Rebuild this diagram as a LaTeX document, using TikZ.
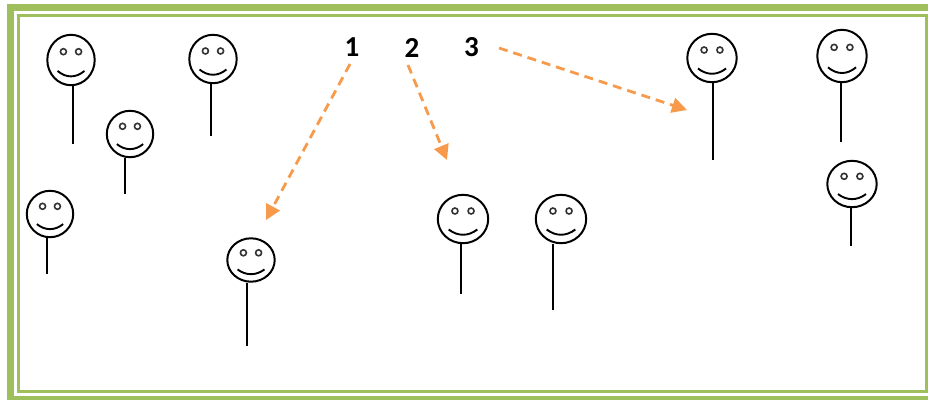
\documentclass[tikz,border=0pt]{standalone}
\usepackage{fontspec}
\setmainfont{Carlito}
\usetikzlibrary{shapes.geometric,arrows.meta,calc}
\definecolor{frameg}{HTML}{9EBF5C}
\definecolor{arrowo}{HTML}{F79A4C}
\tikzset{
  head/.style={draw=black,line width=2pt,ellipse,inner sep=0pt,outer sep=0pt,fill=white},
  eye/.style={draw=black!80,line width=1.6pt,circle,inner sep=0pt,minimum size=6pt},
  stem/.style={draw=black,line width=1.9pt},
  smile/.style={draw=black,line width=1.9pt},
  num/.style={font=\bfseries\fontsize{29}{31}\selectfont,inner sep=0pt,text=black},
  link/.style={draw=arrowo,line width=2.8pt,dash pattern=on 9pt off 6pt,
    -{Triangle[length=15pt,width=15pt,fill=arrowo]}}
}
% name, cx, cy, rx, ry, stem x, stem end y
\newcommand{\smiley}[7]{%
  \node[head,minimum width=#4*2pt-1.6pt,minimum height=#5*2pt-1.6pt] (#1) at (#2,#3) {};
  \node[eye] (#1l) at ($(#1.center)+(-#4*0.31,-#5*0.32)$) {};
  \node[eye] (#1r) at ($(#1.center)+(#4*0.31,-#5*0.32)$) {};
  \draw[smile] ($(#1.center)+(-#4*0.55,#5*0.42)$) .. controls ($(#1.center)+(-#4*0.2,#5*0.70)$) and ($(#1.center)+(#4*0.2,#5*0.70)$) .. ($(#1.center)+(#4*0.55,#5*0.42)$);
  \coordinate (#1a) at (#6,#3+#5);
  \coordinate (#1b) at (#6,#7);
  \draw[stem] (#1a) -- (#1b);
}
\begin{document}
\begin{tikzpicture}[x=1pt,y=-1pt]
\useasboundingbox (0,0) rectangle (928,400);
\fill[white] (0,0) rectangle (928,400);
\draw[frameg,line width=7pt] (10.5,7.5) -- (940,7.5);
\draw[frameg,line width=7pt] (10.5,4) -- (10.5,400);
\fill[frameg] (7,395.7) rectangle (928,400);
\draw[frameg,line width=2.8pt] (940,15.3) -- (18.2,15.3) -- (18.2,391.3) -- (926.8,391.3) -- (926.8,15.3);
\smiley{a}{71}{60}{24.5}{26}{73}{144}
\smiley{b}{130}{134}{24}{24}{125}{194}
\smiley{c}{50}{214}{24}{24}{47}{274}
\smiley{d}{213}{59}{24.5}{25}{211}{136}
\smiley{e}{251}{260}{24.5}{22.5}{247}{346}
\smiley{f}{463}{219}{26}{25}{461}{294}
\smiley{g}{561}{219}{26}{25}{553}{310}
\smiley{h}{712}{58}{25.5}{25}{713}{160}
\smiley{i}{842}{56}{25.5}{27}{841}{142}
\smiley{j}{852}{184}{25.5}{24}{851}{246}
\node[num] (n1) at (352,47.5) {1};
\node[num] (n2) at (412,47.5) {2};
\node[num] (n3) at (471.5,47.5) {3};
\coordinate (s1) at (350,64);
\coordinate (t1) at (266,220);
\coordinate (s2) at (408,65);
\coordinate (t2) at (447,160);
\coordinate (s3) at (499,48);
\coordinate (t3) at (687,110);
\draw[link] (s1) -- (t1);
\draw[link] (s2) -- (t2);
\draw[link] (s3) -- (t3);
\end{tikzpicture}
\end{document}
